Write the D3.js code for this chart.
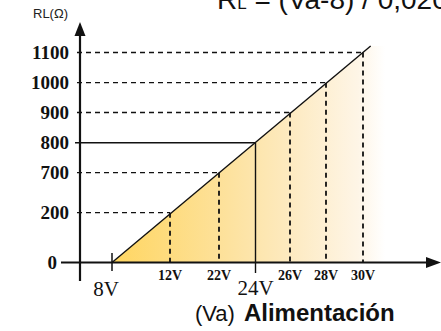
<!DOCTYPE html>
<html><head><meta charset="utf-8">
<script src="https://cdn.jsdelivr.net/npm/d3@7"></script>
<style>html,body{margin:0;padding:0;background:#fff;overflow:hidden}</style>
</head><body>
<svg id="c" width="441" height="331"></svg>
<script>
const voltages = [8, 12, 22, 24, 26, 28, 30];
const resistances = [0, 200, 700, 800, 900, 1000, 1100];
const xTickLabels = ["8V", "12V", "22V", "24V", "26V", "28V", "30V"];
const yTickLabels = ["0", "200", "700", "800", "900", "1000", "1100"];
const highlightV = 24, highlightR = 800;
const yAxisTitle = "RL(Ω)";
const xUnit = "(Va)", xTitle = "Alimentación";

const svg = d3.select("#c");
const x = d3.scaleLinear().domain(voltages).range([112, 170, 219, 255.5, 290, 326, 363]);
const y = d3.scaleLinear().domain(resistances).range([262.5, 212.7, 172.7, 142.7, 112.5, 82.7, 52.5]);
const pts = voltages.map((v, i) => [x(v), y(resistances[i])]);

const defs = svg.append("defs");
const g = defs.append("linearGradient").attr("id", "fillg").attr("gradientUnits", "userSpaceOnUse")
  .attr("x1", x(8)).attr("x2", 385).attr("y1", 0).attr("y2", 0);
[[0, "#FFD661"], [0.4, "#FDE19A"], [0.65, "#FDEAC0"], [0.9, "#FEF5E6"], [1, "#FFFFFF"]]
  .forEach(s => g.append("stop").attr("offset", s[0]).attr("stop-color", s[1]));

// line end extended a bit beyond the last point
const p0 = pts[0], p1 = pts[pts.length - 1];
const len = Math.hypot(p1[0] - p0[0], p1[1] - p0[1]);
const ext = 10;
const pe = [p1[0] + (p1[0] - p0[0]) / len * ext, p1[1] + (p1[1] - p0[1]) / len * ext];

svg.append("path").attr("fill", "url(#fillg)")
  .attr("d", d3.line()([p0, pe, [388, pe[1]], [388, y(0)]]));

// horizontal guide lines
resistances.forEach((r, i) => {
  if (r === 0) return;
  const solid = r === highlightR;
  svg.append("line").attr("x1", solid ? 75 : 77).attr("x2", x(voltages[i]))
    .attr("y1", y(r)).attr("y2", y(r))
    .attr("stroke", "#111").attr("stroke-width", solid ? 1.4 : 1.3)
    .attr("stroke-dasharray", solid ? null : "5,4");
});
// vertical guide lines
voltages.forEach((v, i) => {
  if (v === 8) return;
  const solid = v === highlightV;
  svg.append("line").attr("x1", x(v)).attr("x2", x(v))
    .attr("y1", y(resistances[i])).attr("y2", solid ? 273 : y(0))
    .attr("stroke", "#111").attr("stroke-width", solid ? 1.4 : 1.8)
    .attr("stroke-dasharray", solid ? null : "5,4");
});
// 8V tick
svg.append("line").attr("x1", x(8)).attr("x2", x(8)).attr("y1", 253).attr("y2", 271)
  .attr("stroke", "#111").attr("stroke-width", 1.5);

// main line
svg.append("line").attr("x1", p0[0]).attr("y1", p0[1]).attr("x2", pe[0]).attr("y2", pe[1])
  .attr("stroke", "#111").attr("stroke-width", 1.4);

// axes
svg.append("line").attr("x1", 80).attr("x2", 80).attr("y1", 32).attr("y2", 281)
  .attr("stroke", "#111").attr("stroke-width", 2.2);
svg.append("path").attr("d", "M80,22 L74.5,36 L85.5,36 Z").attr("fill", "#111");
svg.append("line").attr("x1", 61).attr("x2", 430).attr("y1", y(0)).attr("y2", y(0))
  .attr("stroke", "#111").attr("stroke-width", 2.2);
svg.append("path").attr("d", `M441,${y(0)} L426,${y(0) - 5.5} L426,${y(0) + 5.5} Z`).attr("fill", "#111");

// y tick labels
const serif = "'Liberation Serif','Times New Roman',serif";
resistances.forEach((r, i) => {
  svg.append("text").attr("x", r === 0 ? 57 : 69).attr("y", y(r) + 6.5)
    .attr("text-anchor", "end").attr("font-family", serif).attr("font-size", 19)
    .attr("font-weight", "bold").attr("fill", "#111")
    .text(yTickLabels[i]);
});
// x tick labels
voltages.forEach((v, i) => {
  const big = v === 8 || v === highlightV;
  svg.append("text").attr("x", v === 8 ? x(v) - 6 : x(v)).attr("y", v === 8 ? 296 : (big ? 295 : 280))
    .attr("text-anchor", "middle").attr("font-family", serif)
    .attr("font-size", big ? 21 : 14).attr("font-weight", big ? "normal" : "bold").attr("fill", "#111")
    .text(xTickLabels[i]);
});

// titles
svg.append("text").attr("x", 33).attr("y", 18).attr("font-family", "Liberation Sans, Arial, sans-serif")
  .attr("font-size", 13).attr("fill", "#222").text(yAxisTitle);
const bt = svg.append("text").attr("x", 195).attr("y", 321).attr("font-family", "Liberation Sans, Arial, sans-serif")
  .attr("font-size", 22).attr("fill", "#111");
bt.append("tspan").text(xUnit);
bt.append("tspan").attr("dx", 9).attr("font-weight", "bold").attr("font-size", 24).text(xTitle);

const ft = svg.append("text").attr("x", 217).attr("y", 9).attr("font-family", "Liberation Sans, Arial, sans-serif")
  .attr("font-size", 28).attr("fill", "#111");
ft.append("tspan").text("R");
ft.append("tspan").attr("font-size", 17).text("L");
ft.append("tspan").text(" = (Va-8) / 0,020");
</script>
</body></html>
